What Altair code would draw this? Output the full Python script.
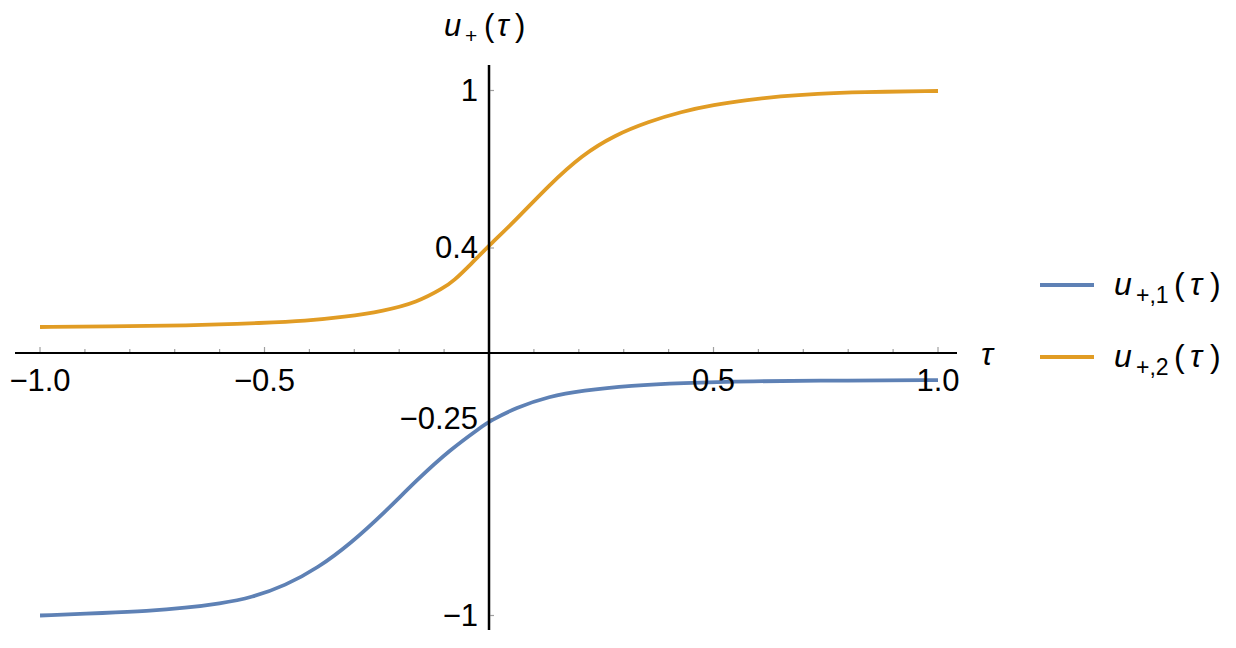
import altair as alt
import pandas as pd

# ---------------- data ----------------
tau_1 = [-1.0, -0.851, -0.763, -0.675, -0.6, -0.527, -0.454, -0.381, -0.307, -0.234, -0.161,
         -0.086, -0.013, 0.0, 0.06, 0.134, 0.207, 0.318, 0.428, 0.576, 0.803, 1.0]
u_1 = [-1.0, -0.990, -0.983, -0.971, -0.955, -0.931, -0.886, -0.819, -0.724, -0.610, -0.484,
       -0.367, -0.277, -0.261, -0.208, -0.165, -0.143, -0.124, -0.114, -0.107, -0.105, -0.103]

tau_2 = [-1.0, -0.851, -0.675, -0.498, -0.41, -0.322, -0.234, -0.161, -0.101, -0.079,
         -0.04, 0.0, 0.06, 0.134, 0.207, 0.28, 0.355, 0.428, 0.5, 0.576, 0.648, 0.73, 0.825, 1.0]
u_2 = [0.099, 0.101, 0.104, 0.115, 0.122, 0.137, 0.16, 0.192, 0.248, 0.274,
       0.339, 0.409, 0.507, 0.640, 0.754, 0.83, 0.881, 0.919, 0.945, 0.964, 0.978, 0.988,
       0.994, 0.998]

series_names = ["u1", "u2"]
legend_subscripts = ["+,1", "+,2"]
colors = ["#5E81B5", "#E19C24"]

x_label_ticks = [-1.0, -0.5, 0.5, 1.0]
x_label_text = ["\u22121.0", "\u22120.5", "0.5", "1.0"]
x_minor_ticks = [-0.9, -0.8, -0.7, -0.6, -0.4, -0.3, -0.2, -0.1,
                 0.1, 0.2, 0.3, 0.4, 0.6, 0.7, 0.8, 0.9]
y_label_ticks = [1.0, 0.4, -0.25, -1.0]
y_label_text = ["1", "0.4", "\u22120.25", "\u22121"]

X_DOMAIN = [-1.0557, 1.0423]
Y_DOMAIN = [-1.0552, 1.0971]
W, H = 942, 565
FONT = "Liberation Sans"

df = pd.concat([
    pd.DataFrame({"tau": tau_1, "u": u_1, "series": series_names[0]}),
    pd.DataFrame({"tau": tau_2, "u": u_2, "series": series_names[1]}),
])

xs = alt.Scale(domain=X_DOMAIN, nice=False, zero=False)
ys = alt.Scale(domain=Y_DOMAIN, nice=False, zero=False)

lines = alt.Chart(df).mark_line(strokeWidth=3.8, interpolate="basis").encode(
    x=alt.X("tau:Q", scale=xs, axis=None),
    y=alt.Y("u:Q", scale=ys, axis=None),
    color=alt.Color("series:N", scale=alt.Scale(domain=series_names, range=colors), legend=None),
)

zero_df = pd.DataFrame({"z": [0.0]})
x_axis_line = alt.Chart(zero_df).mark_rule(color="black", strokeWidth=2).encode(
    y=alt.Y("z:Q", scale=ys, axis=None))
y_axis_line = alt.Chart(zero_df).mark_rule(color="black", strokeWidth=2.5).encode(
    x=alt.X("z:Q", scale=xs, axis=None))

minor_df = pd.DataFrame({"t": x_minor_ticks, "z": 0.0})
major_df = pd.DataFrame({"t": x_label_ticks, "z": 0.0, "label": x_label_text})
ytick_df = pd.DataFrame({"v": y_label_ticks, "z": 0.0, "label": y_label_text})

x_minor = alt.Chart(minor_df).mark_tick(orient="vertical", size=3, thickness=1.2,
                                        color="#777777", yOffset=-2.5).encode(
    x=alt.X("t:Q", scale=xs, axis=None), y=alt.Y("z:Q", scale=ys, axis=None))
x_major = alt.Chart(major_df).mark_tick(orient="vertical", size=5, thickness=1.2,
                                        color="#777777", yOffset=-3.5).encode(
    x=alt.X("t:Q", scale=xs, axis=None), y=alt.Y("z:Q", scale=ys, axis=None))
y_ticks = alt.Chart(ytick_df).mark_tick(orient="horizontal", size=4, thickness=1.2,
                                        color="#777777", xOffset=3).encode(
    y=alt.Y("v:Q", scale=ys, axis=None), x=alt.X("z:Q", scale=xs, axis=None))

x_labels = alt.Chart(major_df).mark_text(
    align="center", baseline="top", dy=14, fontSize=31, font=FONT, color="black").encode(
    x=alt.X("t:Q", scale=xs, axis=None), y=alt.Y("z:Q", scale=ys, axis=None),
    text="label:N")
y_labels = alt.Chart(ytick_df).mark_text(
    align="right", baseline="middle", dx=-11, dy=1.5, fontSize=31, font=FONT,
    color="black").encode(
    y=alt.Y("v:Q", scale=ys, axis=None), x=alt.X("z:Q", scale=xs, axis=None),
    text="label:N")

one = pd.DataFrame({"a": [0]})


def piece(text, x, y, size=32, italic=False):
    return alt.Chart(one).mark_text(
        text=text, align="left", baseline="alphabetic", fontSize=size, font=FONT,
        fontStyle="italic" if italic else "normal", color="black",
    ).encode(x=alt.value(x), y=alt.value(y))


# plot-area origin is at page (15, 65)
texts = []
# axis title u_+(tau)
texts += [piece("u", 429, -29, size=31, italic=True), piece("+", 450, -22, size=21),
          piece("(", 469, -29, size=31), piece("τ", 482, -29, size=31, italic=True),
          piece(")", 500, -29, size=31)]
# tau at the end of the x axis
texts += [piece("τ", 966, 300, italic=True)]

legend = []
for i in range(2):
    yb = 230 + 72 * i
    legend.append(alt.Chart(one).mark_rule(strokeWidth=3.8).encode(
        x=alt.value(1025), x2=alt.value(1079), y=alt.value(yb - 10),
        color=alt.value(colors[i])))
    legend += [piece("u", 1099, yb, italic=True),
               piece(legend_subscripts[i], 1121, yb + 8, size=23),
               piece("(", 1159, yb), piece("τ", 1175, yb, italic=True), piece(")", 1195, yb)]

chart = alt.layer(lines, x_axis_line, y_axis_line, x_minor, x_major, y_ticks,
                  x_labels, y_labels, *texts, *legend).properties(
    width=W, height=H,
    autosize=alt.AutoSizeParams(type="none"),
    padding={"left": 7, "top": 57, "right": 270, "bottom": 10},
).configure_view(stroke=None)

chart.save("out.html", embed_options={"renderer": "svg", "actions": False})
